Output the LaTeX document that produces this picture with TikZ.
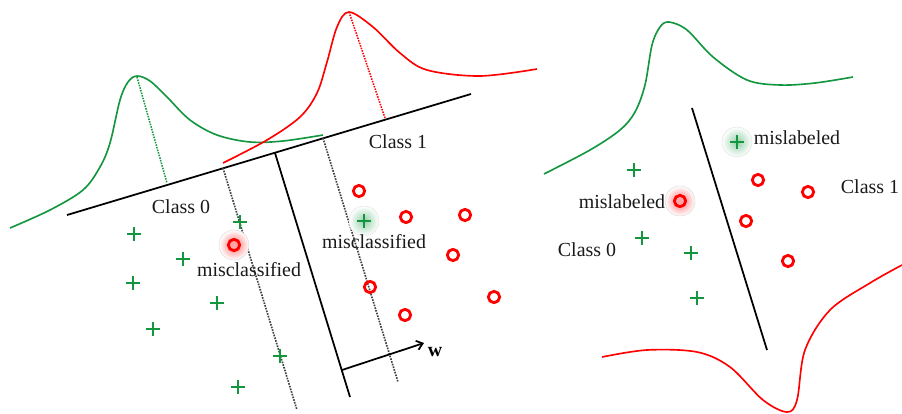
\documentclass[tikz,border=0pt]{standalone}
\usepackage{fontspec}
\setmainfont{Liberation Serif}
\usetikzlibrary{arrows.meta}
\definecolor{pgreen}{RGB}{20,150,65}
\definecolor{pred}{RGB}{255,0,0}
\tikzset{
  lab/.style={inner sep=1pt, font=\fontsize{17}{20}\selectfont, text=black!90},
  plusm/.style={minimum size=0.42cm, inner sep=0pt,
    path picture={\draw[pgreen,line width=2.3pt]
      (path picture bounding box.north)--(path picture bounding box.south)
      (path picture bounding box.west)--(path picture bounding box.east);}},
  circm/.style={circle, draw=pred, line width=2.4pt, minimum size=0.34cm, inner sep=0pt},
  axisline/.style={black, line width=1.5pt},
  sepline/.style={black, line width=1.5pt},
  dotline/.style={black!75, densely dotted, line width=1.4pt},
  gcurve/.style={pgreen, line width=1.4pt},
  rcurve/.style={pred, line width=1.4pt},
}
\begin{document}
\begin{tikzpicture}[x=0.03cm,y=-0.03cm]
\useasboundingbox (0,0) rectangle (902,413);

% ---------------- left panel ----------------
\coordinate (a0) at (67,215);
\coordinate (a1) at (471,94);
\coordinate (gpk) at (137,77);
\coordinate (gft) at (167,183);
\coordinate (rpk) at (349,12);
\coordinate (rft) at (385,118);
\coordinate (s0) at (275,153);
\coordinate (s1) at (350,397);
\coordinate (d0) at (223,168);
\coordinate (d1) at (297,410);
\coordinate (e0) at (323,138);
\coordinate (e1) at (398,382);
\coordinate (w0) at (342,370);
\coordinate (w1) at (424,343);

% densities
\draw[gcurve] plot[smooth, tension=0.55] coordinates {(10,228) (50,210) (83,190) (100,167) (110,143) (120,100) (128,82) (137,76) (150,81) (167,97) (190,120) (217,135) (250,142) (283,141) (323,135)};
\draw[rcurve] plot[smooth, tension=0.55] coordinates {(223,163) (267,140) (300,117) (317,93) (327,62) (337,27) (349,12) (373,27) (400,53) (427,70) (480,76) (537,69)};
\draw[pgreen, densely dotted, line width=1.3pt] (gpk) -- (gft);
\draw[pred, densely dotted, line width=1.3pt] (rpk) -- (rft);

% projection axis and boundaries
\draw[axisline] (a0) -- (a1);
\draw[sepline] (s0) -- (s1);
\draw[dotline] (d0) -- (d1);
\draw[dotline] (e0) -- (e1);
\draw[black, line width=1.5pt, -{Straight Barb[length=5pt,width=8pt]}] (w0) -- (w1);
\node[inner sep=1pt, font=\fontsize{17}{20}\selectfont\bfseries] (wl) at (435,352) {w};

% glows
\shade[inner color=pred!55, outer color=white] (234,245) circle (0.45cm);
\draw[black!15, line width=0.4pt] (234,245) circle (0.45cm);
\shade[inner color=pgreen!45, outer color=white] (364,221) circle (0.45cm);
\draw[black!12, line width=0.4pt] (364,221) circle (0.45cm);

% green pluses
\node[plusm] (p1) at (134,234) {};
\node[plusm] (p2) at (240,222) {};
\node[plusm] (p3) at (183,259) {};
\node[plusm] (p4) at (133,283) {};
\node[plusm] (p5) at (217,303) {};
\node[plusm] (p6) at (153,329) {};
\node[plusm] (p7) at (280,356) {};
\node[plusm] (p8) at (238,387) {};
\node[plusm] (p9) at (364,221) {};

% red circles
\node[circm] (c1) at (359,191) {};
\node[circm] (c2) at (406,217) {};
\node[circm] (c3) at (465,215) {};
\node[circm] (c4) at (453,255) {};
\node[circm] (c5) at (370,287) {};
\node[circm] (c6) at (405,315) {};
\node[circm] (c7) at (494,297) {};
\node[circm, fill=pred!35] (c8) at (234,245) {};

% labels
\node[lab] (l0) at (181,207) {Class 0};
\node[lab] (l1) at (398,142) {Class 1};
\node[lab] (m1) at (249,270) {misclassified};
\node[lab] (m2) at (374,242) {misclassified};

% ---------------- right panel ----------------
\coordinate (b0) at (692,108);
\coordinate (b1) at (767,350);
\draw[gcurve] plot[smooth, tension=0.55] coordinates {(544,174) (590,150) (620,130) (635,112) (645,85) (652,45) (660,27) (669,22) (687,30) (713,57) (747,80) (780,85) (815,83) (853,77)};
\draw[rcurve] plot[smooth, tension=0.55] coordinates {(602,357) (647,350) (697,352) (730,367) (763,400) (787,412) (797,400) (805,350) (830,310) (870,283) (902,265)};
\draw[sepline] (b0) -- (b1);

\shade[inner color=pred!55, outer color=white] (680,201) circle (0.45cm);
\draw[black!15, line width=0.4pt] (680,201) circle (0.45cm);
\shade[inner color=pgreen!45, outer color=white] (737,142) circle (0.45cm);
\draw[black!12, line width=0.4pt] (737,142) circle (0.45cm);

\node[plusm] (q1) at (634,170) {};
\node[plusm] (q2) at (642,238) {};
\node[plusm] (q3) at (691,253) {};
\node[plusm] (q4) at (697,298) {};
\node[plusm] (q5) at (737,142) {};

\node[circm] (k1) at (758,180) {};
\node[circm] (k2) at (808,192) {};
\node[circm] (k3) at (746,221) {};
\node[circm] (k4) at (788,261) {};
\node[circm, fill=pred!35] (k5) at (680,201) {};

\node[lab] (n0) at (587,250) {Class 0};
\node[lab] (n1) at (870,187) {Class 1};
\node[lab] (ml1) at (797,138) {mislabeled};
\node[lab] (ml2) at (622,202) {mislabeled};
\end{tikzpicture}
\end{document}
